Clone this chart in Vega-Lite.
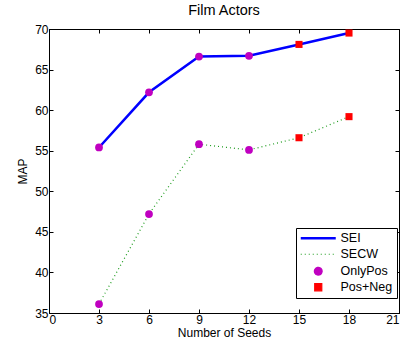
{
  "$schema": "https://vega.github.io/schema/vega-lite/v6.json",
  "autosize": {"type": "none"},
  "padding": {"left": 49, "top": 29, "right": 7, "bottom": 37},
  "width": 350,
  "height": 284,
  "background": "white",
  "title": {"text": "Film Actors", "font": "Liberation Sans", "fontSize": 14.5, "fontWeight": "normal", "color": "#000", "offset": 5},
  "config": {
    "view": {"stroke": "#000", "strokeWidth": 1},
    "axis": {"labelFont": "Liberation Sans", "titleFont": "Liberation Sans", "labelFontSize": 12, "titleFontSize": 12, "titleFontWeight": "normal", "labelColor": "#000", "titleColor": "#000", "domainColor": "#000", "tickColor": "#000", "grid": false, "tickSize": -4, "labelPadding": 5}
  },
  "datasets": {
    "lines": [
      {"seeds": 3, "map": 55.4, "series": "SEI"},
      {"seeds": 6, "map": 62.2, "series": "SEI"},
      {"seeds": 9, "map": 66.6, "series": "SEI"},
      {"seeds": 12, "map": 66.7, "series": "SEI"},
      {"seeds": 15, "map": 68.1, "series": "SEI"},
      {"seeds": 18, "map": 69.5, "series": "SEI"},
      {"seeds": 3, "map": 36.1, "series": "SECW"},
      {"seeds": 6, "map": 47.2, "series": "SECW"},
      {"seeds": 9, "map": 55.8, "series": "SECW"},
      {"seeds": 12, "map": 55.1, "series": "SECW"},
      {"seeds": 15, "map": 56.6, "series": "SECW"},
      {"seeds": 18, "map": 59.2, "series": "SECW"}
    ],
    "points": [
      {"seeds": 3, "map": 55.4, "series": "OnlyPos"},
      {"seeds": 6, "map": 62.2, "series": "OnlyPos"},
      {"seeds": 9, "map": 66.6, "series": "OnlyPos"},
      {"seeds": 12, "map": 66.7, "series": "OnlyPos"},
      {"seeds": 15, "map": 68.1, "series": "Pos+Neg"},
      {"seeds": 18, "map": 69.5, "series": "Pos+Neg"},
      {"seeds": 3, "map": 36.1, "series": "OnlyPos"},
      {"seeds": 6, "map": 47.2, "series": "OnlyPos"},
      {"seeds": 9, "map": 55.8, "series": "OnlyPos"},
      {"seeds": 12, "map": 55.1, "series": "OnlyPos"},
      {"seeds": 15, "map": 56.6, "series": "Pos+Neg"},
      {"seeds": 18, "map": 59.2, "series": "Pos+Neg"}
    ]
  },
  "resolve": {"axis": {"x": "independent", "y": "independent"}},
  "layer": [
    {
      "layer": [
        {
          "data": {"name": "lines"},
          "transform": [{"filter": "datum.series == 'SECW'"}],
          "mark": {"type": "line", "strokeDash": [1, 3], "strokeWidth": 1.2},
          "encoding": {
            "x": {"field": "seeds", "type": "quantitative", "scale": {"domain": [0, 21], "nice": false}, "axis": {"values": [0, 3, 6, 9, 12, 15, 18, 21], "title": "Number of Seeds", "titlePadding": 2}},
            "y": {"field": "map", "type": "quantitative", "scale": {"domain": [35, 70], "nice": false, "zero": false}, "axis": {"values": [35, 40, 45, 50, 55, 60, 65, 70], "title": "MAP", "titlePadding": 5}},
            "color": {
              "field": "series", "type": "nominal",
              "scale": {"domain": ["SEI", "SECW", "OnlyPos", "Pos+Neg"], "range": ["#0000ff", "#1a9a1a", "#c000c0", "#ff0000"]},
              "legend": {
                "title": null, "orient": "none", "legendX": 247, "legendY": 199,
                "padding": 4,
                "labelFont": "Liberation Sans", "labelFontSize": 12.5, "labelColor": "#000",
                "symbolOffset": 12, "labelOffset": 16, "rowPadding": 3, "symbolOpacity": 1,
                "encode": {
                  "legend": {
                    "update": {
                      "stroke": {"value": "#000"},
                      "strokeWidth": {"value": 1},
                      "fill": {"value": "#fff"}
                    }
                  },
                  "symbols": {
                    "update": {
                      "shape": {"signal": "datum.value == 'SEI' || datum.value == 'SECW' ? 'stroke' : (datum.value == 'OnlyPos' ? 'circle' : 'square')"},
                      "size": {"signal": "datum.value == 'SEI' || datum.value == 'SECW' ? 1225 : (datum.value == 'OnlyPos' ? 60 : 50)"},
                      "fill": {"signal": "datum.value == 'SEI' || datum.value == 'SECW' ? 'transparent' : scale('color', datum.value)"},
                      "stroke": {"signal": "datum.value == 'SEI' || datum.value == 'SECW' ? scale('color', datum.value) : 'transparent'"},
                      "strokeWidth": {"signal": "datum.value == 'SEI' ? 2.5 : 1.2"},
                      "strokeDash": {"signal": "datum.value == 'SECW' ? [1, 3] : [1, 0]"},
                      "opacity": {"value": 1}
                    }
                  }
                }
              }
            }
          }
        },
        {
          "data": {"name": "lines"},
          "transform": [{"filter": "datum.series == 'SEI'"}],
          "mark": {"type": "line", "strokeWidth": 2.5},
          "encoding": {
            "x": {"field": "seeds", "type": "quantitative"},
            "y": {"field": "map", "type": "quantitative"},
            "color": {"field": "series", "type": "nominal"}
          }
        },
        {
          "data": {"name": "points"},
          "transform": [{"filter": "datum.series == 'OnlyPos'"}],
          "mark": {"type": "point", "shape": "circle", "filled": true, "size": 60, "opacity": 1},
          "encoding": {
            "x": {"field": "seeds", "type": "quantitative"},
            "y": {"field": "map", "type": "quantitative"},
            "color": {"field": "series", "type": "nominal"}
          }
        },
        {
          "data": {"name": "points"},
          "transform": [{"filter": "datum.series == 'Pos+Neg'"}],
          "mark": {"type": "point", "shape": "square", "filled": true, "size": 50, "opacity": 1},
          "encoding": {
            "x": {"field": "seeds", "type": "quantitative"},
            "y": {"field": "map", "type": "quantitative"},
            "color": {"field": "series", "type": "nominal"}
          }
        }
      ]
    },
    {
      "data": {"name": "lines"},
      "mark": {"type": "point", "opacity": 0},
      "encoding": {
        "x": {"field": "seeds", "type": "quantitative", "axis": {"orient": "top", "values": [0, 3, 6, 9, 12, 15, 18, 21], "labels": false, "title": null}},
        "y": {"field": "map", "type": "quantitative", "axis": {"orient": "right", "values": [35, 40, 45, 50, 55, 60, 65, 70], "labels": false, "title": null}}
      }
    }
  ]
}
